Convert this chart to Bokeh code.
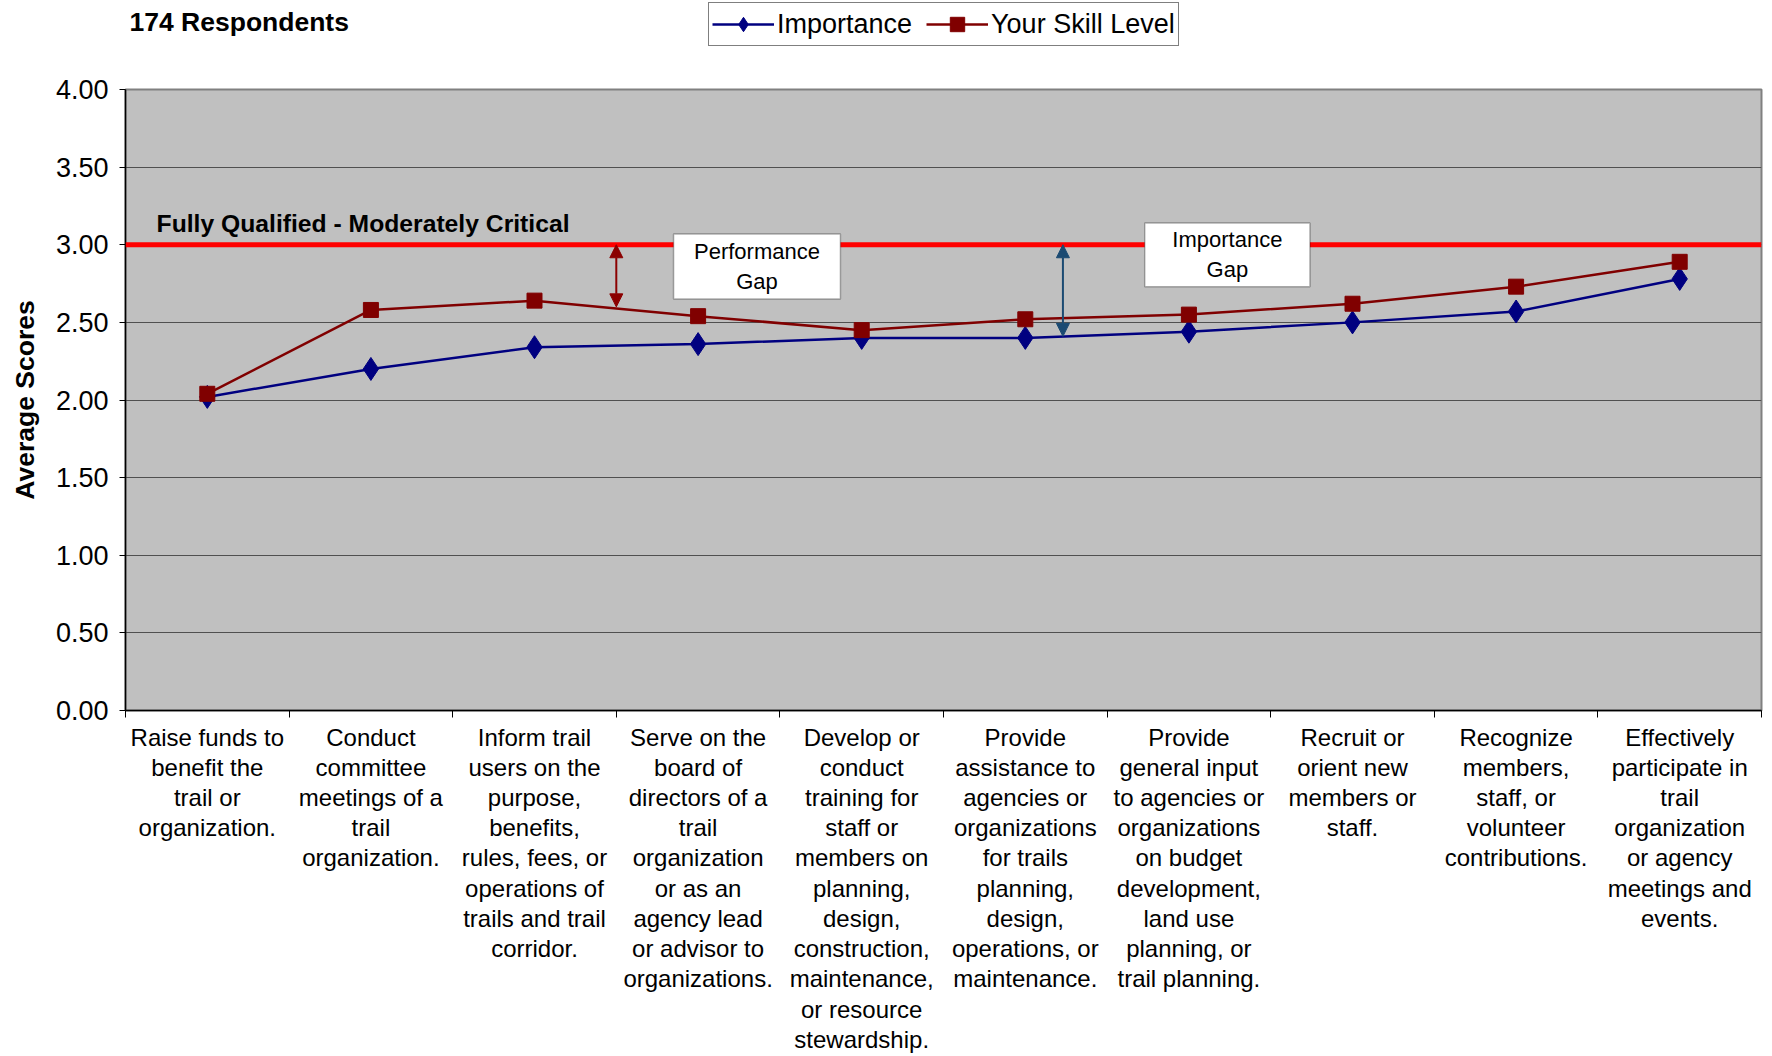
from bokeh.plotting import figure
from bokeh.layouts import column
from bokeh.models import (FixedTicker, NumeralTickFormatter, Legend, LegendItem, Span,
                          BoxAnnotation, Label, Arrow, NormalHead, Range1d)
from bokeh.embed import file_html
from bokeh.resources import INLINE

categories = [
    "Raise funds to\nbenefit the\ntrail or\norganization.",
    "Conduct\ncommittee\nmeetings of a\ntrail\norganization.",
    "Inform trail\nusers on the\npurpose,\nbenefits,\nrules, fees, or\noperations of\ntrails and trail\ncorridor.",
    "Serve on the\nboard of\ndirectors of a\ntrail\norganization\nor as an\nagency lead\nor advisor to\norganizations.",
    "Develop or\nconduct\ntraining for\nstaff or\nmembers on\nplanning,\ndesign,\nconstruction,\nmaintenance,\nor resource\nstewardship.",
    "Provide\nassistance to\nagencies or\norganizations\nfor trails\nplanning,\ndesign,\noperations, or\nmaintenance.",
    "Provide\ngeneral input\nto agencies or\norganizations\non budget\ndevelopment,\nland use\nplanning, or\ntrail planning.",
    "Recruit or\norient new\nmembers or\nstaff.",
    "Recognize\nmembers,\nstaff, or\nvolunteer\ncontributions.",
    "Effectively\nparticipate in\ntrail\norganization\nor agency\nmeetings and\nevents.",
]
importance = [2.02, 2.20, 2.34, 2.36, 2.40, 2.40, 2.44, 2.50, 2.57, 2.78]
skill_level = [2.04, 2.58, 2.64, 2.54, 2.45, 2.52, 2.55, 2.62, 2.73, 2.89]
y_ticks = [0.0, 0.5, 1.0, 1.5, 2.0, 2.5, 3.0, 3.5, 4.0]
threshold = 3.0
threshold_label = "Fully Qualified - Moderately Critical"
respondents_label = "174 Respondents"
series_names = ["Importance", "Your Skill Level"]

FONT = "Liberation Sans"
IMP_COLOR = "#000080"
SKILL_COLOR = "#800000"
n = len(categories)
centers = [i + 0.5 for i in range(n)]
bounds = [float(i) for i in range(n + 1)]

W = 1764
TOP_H = 74


def draw_series(fig):
    r1 = fig.line(centers, importance, line_color=IMP_COLOR, line_width=2.5)
    r2 = fig.scatter(centers, importance, marker="diamond", size=23, fill_color=IMP_COLOR,
                     line_color=IMP_COLOR)
    r3 = fig.line(centers, skill_level, line_color=SKILL_COLOR, line_width=2.5)
    r4 = fig.scatter(centers, skill_level, marker="square", size=15, fill_color=SKILL_COLOR,
                     line_color=SKILL_COLOR)
    return r1, r2, r3, r4


# ---- header strip (title text + legend); series drawn out of view only for the legend ----
top = figure(width=W, height=TOP_H, output_backend="svg", toolbar_location=None,
             x_range=Range1d(0, n), y_range=Range1d(10, 11),
             x_axis_type=None, y_axis_type=None,
             min_border_left=125, min_border_right=3, min_border_top=0, min_border_bottom=0)
top.outline_line_color = None
top.background_fill_color = "white"
top.xgrid.grid_line_color = None
top.ygrid.grid_line_color = None
top.add_layout(Label(x=4, y=TOP_H - 21, x_units="screen", y_units="screen", text=respondents_label,
                     text_font=FONT, text_font_size="26.5px", text_font_style="bold",
                     text_baseline="middle", text_color="black"))
t1, t2, t3, t4 = draw_series(top)
legend = Legend(items=[LegendItem(label=series_names[0], renderers=[t1, t2]),
                       LegendItem(label=series_names[1], renderers=[t3, t4])],
                orientation="horizontal", location=(583, TOP_H - 46),
                label_text_font=FONT, label_text_font_size="27px", label_text_color="black",
                border_line_color="black", border_line_width=1.5,
                background_fill_color="white", background_fill_alpha=1,
                glyph_width=62, glyph_height=36, label_height=28, label_standoff=3,
                spacing=14, padding=3, margin=0)
top.add_layout(legend, "center")

# ---- main chart ----
p = figure(width=W, height=1056 - TOP_H, output_backend="svg", toolbar_location=None,
           x_range=Range1d(0, n), y_range=Range1d(0, 4),
           min_border_left=125, min_border_right=3, min_border_top=15, min_border_bottom=346)
p.background_fill_color = "#C0C0C0"
p.border_fill_color = "white"
p.outline_line_color = "#808080"
p.outline_line_width = 2

p.xaxis.ticker = FixedTicker(ticks=centers, minor_ticks=bounds)
p.xaxis.major_label_overrides = {c: lab for c, lab in zip(centers, categories)}
p.xaxis.major_tick_out = 0
p.xaxis.major_tick_in = 0
p.xaxis.minor_tick_out = 7
p.xaxis.minor_tick_in = 0
p.xaxis.minor_tick_line_color = "black"
p.xaxis.axis_line_color = "black"
p.xaxis.axis_line_width = 1.5
p.xaxis.major_label_text_font = FONT
p.xaxis.major_label_text_font_size = "24px"
p.xaxis.major_label_text_line_height = 1.12
p.xaxis.major_label_text_color = "black"
p.xaxis.major_label_standoff = 6

p.yaxis.ticker = FixedTicker(ticks=y_ticks)
p.yaxis.formatter = NumeralTickFormatter(format="0.00")
p.yaxis.minor_tick_line_color = None
p.yaxis.major_tick_out = 6
p.yaxis.major_tick_in = 0
p.yaxis.major_tick_line_color = "black"
p.yaxis.axis_line_color = "black"
p.yaxis.axis_line_width = 1.5
p.yaxis.major_label_text_font = FONT
p.yaxis.major_label_text_font_size = "27px"
p.yaxis.major_label_text_color = "black"
p.yaxis.major_label_standoff = 11
p.yaxis.axis_label = "Average Scores"
p.yaxis.axis_label_text_font = FONT
p.yaxis.axis_label_text_font_size = "26.5px"
p.yaxis.axis_label_text_font_style = "bold"
p.yaxis.axis_label_text_color = "black"
p.yaxis.axis_label_standoff = 13

p.xgrid.grid_line_color = None
p.ygrid.ticker = FixedTicker(ticks=y_ticks)
p.ygrid.grid_line_color = "#505050"
p.ygrid.grid_line_width = 1.2

p.add_layout(Span(location=threshold, dimension="width", line_color="#FF0000", line_width=5))

draw_series(p)

# gap arrows
perf_arrow_x, perf_arrow_end = 3.0, 2.60
imp_arrow_x, imp_arrow_end = 5.73, 2.41
for ax, ay, col in [(perf_arrow_x, perf_arrow_end, "#8B0000"), (imp_arrow_x, imp_arrow_end, "#1B4A72")]:
    p.add_layout(Arrow(x_start=ax, y_start=threshold, x_end=ax, y_end=ay,
                       line_color=col, line_width=2,
                       start=NormalHead(size=13, fill_color=col, line_color=col),
                       end=NormalHead(size=13, fill_color=col, line_color=col)))

# callout boxes
boxes = [((3.35, 4.37, 3.07, 2.65), "Performance\nGap"), ((6.23, 7.24, 3.14, 2.73), "Importance\nGap")]
for (l, r, t, b), txt in boxes:
    p.add_layout(BoxAnnotation(left=l, right=r, top=t, bottom=b, fill_color="white", fill_alpha=1,
                               line_color="black", line_width=1.5, level="overlay"))
    p.add_layout(Label(x=(l + r) / 2, y=(t + b) / 2, text=txt, text_align="center",
                       text_baseline="middle", text_font=FONT, text_font_size="22px",
                       text_color="black", text_line_height=1.2, level="overlay"))

p.add_layout(Label(x=0.19, y=3.14, text=threshold_label, text_font=FONT, text_font_size="24.7px",
                   text_font_style="bold", text_baseline="middle", text_color="black"))

layout = column(top, p, spacing=0)
open("out.html", "w").write(file_html(layout, INLINE))
